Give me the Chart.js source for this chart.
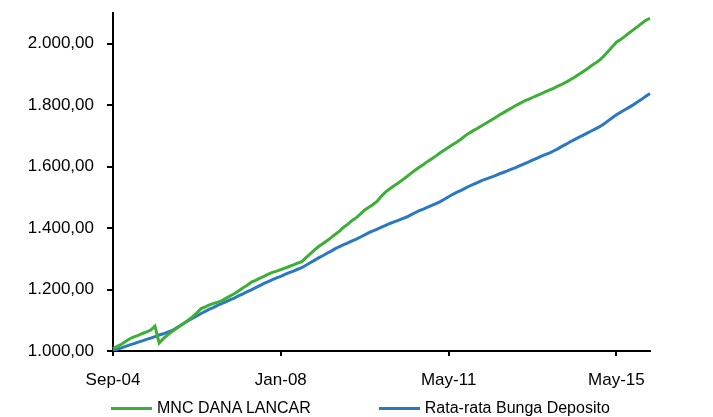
<!DOCTYPE html>
<html>
<head>
<meta charset="utf-8">
<script src="https://cdn.jsdelivr.net/npm/chart.js@4.4.1/dist/chart.umd.min.js"></script>
<style>
  html, body { margin: 0; padding: 0; background: #fff; }
  #wrap { position: relative; width: 713px; height: 417px; }
  #legend {
    position: absolute; left: 111px; top: 398px;
    display: flex; gap: 68px;
    font-family: "Liberation Sans", Arial, sans-serif; font-size: 16px; color: #000;
  }
  .item { display: flex; align-items: center; height: 20px; }
  .swatch { width: 41px; height: 3px; margin-right: 5px; }
</style>
</head>
<body>
<div id="wrap">
  <canvas id="chart"></canvas>
  <div id="legend"></div>
</div>
<script>
// Tick labels on the x axis (one every 40 points)
const tickLabels = ["Sep-04", "Jan-08", "May-11", "May-15"];
const tickStep = 40;

// MNC DANA LANCAR
const mncValues = [
  1008, 1015, 1022, 1031, 1040, 1046, 1051, 1057, 1062, 1068,
  1081, 1026, 1040, 1052, 1063, 1072, 1082, 1091, 1101, 1112,
  1124, 1138, 1144, 1150, 1155, 1159, 1164, 1172, 1180, 1187,
  1196, 1206, 1214, 1224, 1230, 1237, 1243, 1250, 1256, 1260,
  1265, 1270, 1275, 1280, 1286, 1291, 1304, 1316, 1328, 1340,
  1349, 1359, 1369, 1380, 1390, 1403, 1413, 1425, 1434, 1446,
  1459, 1468, 1477, 1488, 1504, 1518, 1528, 1538, 1547, 1557,
  1567, 1578, 1588, 1598, 1607, 1617, 1626, 1635, 1645, 1654,
  1663, 1672, 1680, 1690, 1701, 1710, 1718, 1726, 1734, 1742,
  1750, 1758, 1767, 1775, 1783, 1791, 1799, 1806, 1813, 1819,
  1825, 1831, 1837, 1843, 1849, 1855, 1862, 1868, 1875, 1883,
  1891, 1900, 1909, 1918, 1928, 1937, 1947, 1960, 1975, 1990,
  2005, 2014, 2024, 2035, 2045, 2055, 2066, 2076, 2083
];

// Rata-rata Bunga Deposito
const depositoValues = [
  1000, 1005, 1010, 1015, 1020, 1024, 1029, 1033, 1038, 1042,
  1047, 1052, 1056, 1061, 1066, 1074, 1082, 1091, 1099, 1107,
  1114, 1122, 1129, 1136, 1142, 1149, 1155, 1161, 1167, 1173,
  1180, 1186, 1193, 1199, 1206, 1213, 1220, 1226, 1232, 1238,
  1243, 1249, 1255, 1260, 1266, 1271, 1279, 1287, 1295, 1303,
  1310, 1318, 1325, 1333, 1340, 1346, 1352, 1358, 1364, 1371,
  1378, 1385, 1391, 1397, 1403, 1409, 1415, 1420, 1425, 1431,
  1436, 1443, 1450, 1457, 1462, 1468, 1474, 1480, 1486, 1494,
  1502, 1510, 1517, 1523, 1530, 1537, 1543, 1549, 1555, 1560,
  1565, 1570, 1576, 1581, 1586, 1592, 1597, 1603, 1609, 1615,
  1621, 1627, 1633, 1639, 1644, 1651, 1658, 1666, 1673, 1681,
  1688, 1695, 1702, 1709, 1716, 1723, 1730, 1739, 1749, 1759,
  1769, 1777, 1785, 1793, 1801, 1810, 1819, 1829, 1838
];

const categories = mncValues.map((v, i) => i % tickStep === 0 ? tickLabels[i / tickStep] : "");

const fmt = new Intl.NumberFormat("de-DE", { minimumFractionDigits: 2, maximumFractionDigits: 2 });
const font = { family: "'Liberation Sans', Arial, sans-serif", size: 17 };

const chart = new Chart(document.getElementById("chart"), {
    type: "line",
    data: {
        labels: categories,
        datasets: [{
            label: "MNC DANA LANCAR",
            data: mncValues,
            borderColor: "#3dae36",
            backgroundColor: "#3dae36",
            borderWidth: 3,
            pointRadius: 0,
            tension: 0
        }, {
            label: "Rata-rata Bunga Deposito",
            data: depositoValues,
            borderColor: "#2a78c2",
            backgroundColor: "#2a78c2",
            borderWidth: 3,
            pointRadius: 0,
            tension: 0
        }]
    },
    options: {
        responsive: true,
        maintainAspectRatio: false,
        animation: false,
        layout: { padding: { top: 13, right: 63, left: 0, bottom: 0 } },
        plugins: {
            legend: { display: false },
            tooltip: { enabled: false }
        },
        scales: {
            x: {
                type: "category",
                offset: false,
                afterFit: s => { s.height = 66; s.paddingLeft = 0; s.paddingRight = 0; },
                border: { color: "#000", width: 2 },
                grid: { drawOnChartArea: false, color: "#000", lineWidth: 2, tickLength: 5 },
                ticks: {
                    autoSkip: false, maxRotation: 0, padding: 14, color: "#000", font: font,
                    callback: function (value) {
                        const l = this.getLabelForValue(value);
                        return l === "" ? null : l;
                    }
                }
            },
            y: {
                min: 1000,
                max: 2100,
                afterFit: s => { s.width = 113; s.paddingTop = 0; s.paddingBottom = 0; },
                border: { color: "#000", width: 2 },
                grid: { drawOnChartArea: false, color: "#000", lineWidth: 2, tickLength: 6 },
                ticks: {
                    stepSize: 200, padding: 13, color: "#000", font: font,
                    callback: v => (v % 200 === 0 ? fmt.format(v) : null)
                }
            }
        }
    }
});

// HTML legend built from the datasets
const legend = document.getElementById("legend");
chart.data.datasets.forEach(ds => {
    const item = document.createElement("div");
    item.className = "item";
    const sw = document.createElement("span");
    sw.className = "swatch";
    sw.style.background = ds.borderColor;
    const txt = document.createElement("span");
    txt.textContent = ds.label;
    item.appendChild(sw);
    item.appendChild(txt);
    legend.appendChild(item);
});
</script>
</body>
</html>
